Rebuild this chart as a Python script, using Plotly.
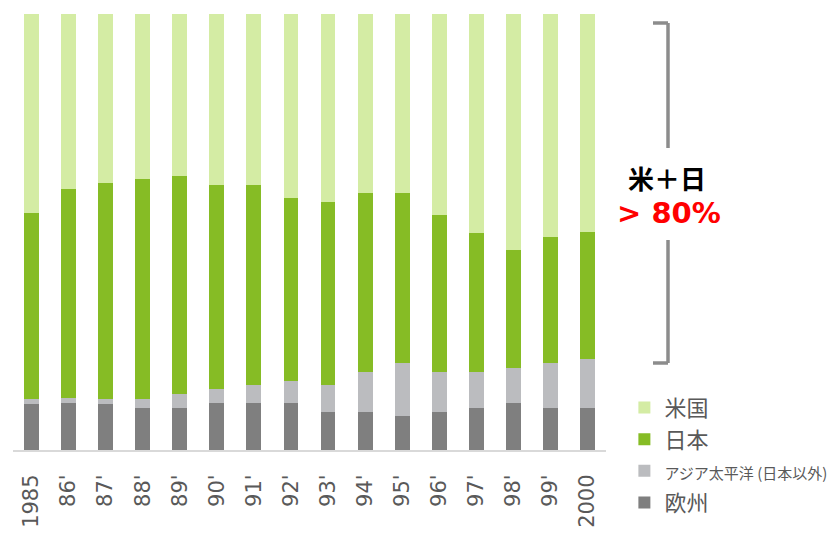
import plotly.graph_objects as go

years = ["1985", "86'", "87'", "88'", "89'", "90'", "91'", "92'", "93'", "94'", "95'", "96'", "97'", "98'", "99'", "2000"]
europe = [10.6, 10.8, 10.6, 9.7, 9.7, 10.8, 10.8, 10.8, 8.8, 8.8, 7.9, 8.8, 9.7, 10.8, 9.7, 9.7]
asia = [1.1, 1.1, 1.1, 2.0, 3.1, 3.1, 4.1, 5.0, 6.1, 9.1, 12.0, 9.1, 8.2, 8.0, 10.2, 11.2]
japan = [42.7, 47.9, 49.6, 50.5, 50.1, 46.9, 45.9, 42.0, 42.0, 41.0, 39.0, 36.1, 31.9, 27.1, 29.0, 29.0]
usa = [45.6, 40.1, 38.7, 37.8, 37.1, 39.2, 39.2, 42.1, 43.1, 41.1, 41.1, 46.0, 50.2, 54.1, 51.1, 50.2]

series = [
    ("欧州", europe, "#7f7f7f"),
    ("<span style='font-size:15px'>アジア太平洋 (日本以外)</span>", asia, "#bbbcbf"),
    ("日本", japan, "#86bc25"),
    ("米国", usa, "#d4eca4"),
]

fig = go.Figure()
for name, vals, col in series:
    fig.add_trace(go.Bar(x=years, y=vals, name=name, marker=dict(color=col, line=dict(width=0)),
                         width=0.4))

fig.update_layout(
    barmode="stack",
    width=834, height=534,
    margin=dict(l=13, r=228, t=14, b=84, autoexpand=False),
    plot_bgcolor="white", paper_bgcolor="white",
    showlegend=True,
    legend=dict(traceorder="reversed", x=1.031, xanchor="left", y=0.145, yanchor="top",
                font=dict(family="Noto Sans CJK JP", size=22, color="#595959"),
                itemclick=False, tracegroupgap=0),
    xaxis=dict(type="category", tickangle=-90, showgrid=False, ticks="",
               showline=True, linecolor="#d9d9d9", linewidth=2,
               tickfont=dict(family="DejaVu Sans", size=21, color="#595959"),
               ticklabelstandoff=14, range=[-0.5, 15.5], automargin=False),
    yaxis=dict(range=[0, 100], visible=False, showgrid=False, zeroline=False),
)

def px_x(px):
    return (px - 13) / 593.0

def px_y(py):
    return (450 - py) / 436.0

lc = "#8c8c8c"
for seg in [((653, 23), (668, 23)), ((668, 23), (668, 148)), ((668, 240), (668, 363)), ((653, 363), (668, 363))]:
    (x0, y0), (x1, y1) = seg
    fig.add_shape(type="line", xref="paper", yref="paper", x0=px_x(x0), y0=px_y(y0), x1=px_x(x1), y1=px_y(y1),
                  line=dict(color=lc, width=3.5))

fig.add_annotation(xref="paper", yref="paper", x=px_x(667), y=px_y(178), text="<b>米＋日</b>", showarrow=False,
                   xanchor="center", yanchor="middle",
                   font=dict(family="Noto Sans CJK JP", size=26, color="black"))
fig.add_annotation(xref="paper", yref="paper", x=px_x(669), y=px_y(213), text="<b>&gt; 80%</b>", showarrow=False,
                   xanchor="center", yanchor="middle",
                   font=dict(family="DejaVu Sans", size=29, color="#ff0000"))

fig.write_html("out.html")
